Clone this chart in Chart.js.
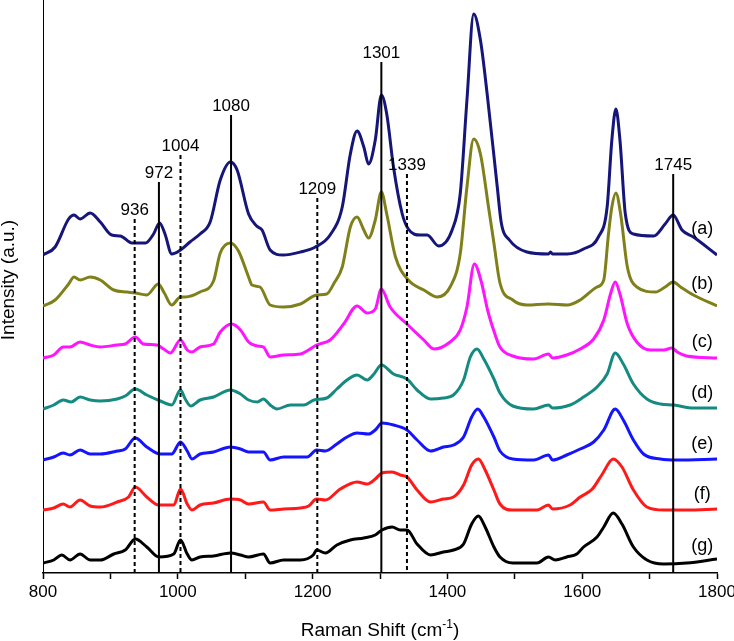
<!DOCTYPE html>
<html>
<head>
<meta charset="utf-8">
<script src="https://cdn.jsdelivr.net/npm/chart.js@4.4.1/dist/chart.umd.min.js"></script>
<style>
  html, body { margin: 0; padding: 0; background: #fff; }
  #wrap { width: 734px; height: 641px; position: relative; }
</style>
</head>
<body>
<div id="wrap"><canvas id="ramanChart" width="734" height="641"></canvas></div>
<script>
// spectra, Raman shift (cm-1) and intensity (a.u., already stacked)
const shiftA = [800, 818, 838, 846, 855, 870, 885, 902, 915, 932, 952, 964, 973, 981, 991, 1004, 1018, 1033, 1048, 1063, 1078, 1088, 1105, 1117, 1125, 1137, 1156, 1182, 1204, 1226, 1244, 1256, 1266, 1276, 1283, 1293, 1302, 1310, 1320, 1333, 1342, 1360, 1370, 1387, 1407, 1419, 1429, 1439, 1449, 1459, 1474, 1480, 1492, 1518, 1550, 1553, 1556, 1578, 1602, 1624, 1637, 1644, 1650, 1656, 1664, 1676, 1706, 1723, 1735, 1748, 1765, 1800];
const intA = [318, 326, 354, 358, 354, 360, 351, 338, 337, 330, 330, 339, 350, 339, 319, 323, 331, 339, 351, 393, 411, 403, 359, 347, 343, 323, 318, 321, 326, 338, 366, 419, 442, 426, 409, 433, 478, 459, 406, 359, 344, 338, 338, 327, 343, 379, 473, 559, 533, 479, 386, 350, 333, 321, 319, 321, 319, 319, 324, 336, 366, 433, 464, 433, 359, 339, 337, 349, 358, 343, 336, 318];

const shiftB = [800, 818, 838, 846, 855, 870, 885, 905, 925, 937, 954, 971, 980, 991, 1004, 1011, 1033, 1053, 1063, 1078, 1090, 1105, 1110, 1122, 1137, 1157, 1182, 1206, 1221, 1232, 1244, 1256, 1266, 1276, 1283, 1293, 1302, 1310, 1323, 1342, 1365, 1385, 1404, 1419, 1429, 1439, 1449, 1461, 1469, 1478, 1497, 1518, 1550, 1578, 1597, 1622, 1632, 1639, 1644, 1650, 1657, 1667, 1681, 1709, 1723, 1735, 1746, 1765, 1800];
const intB = [267, 273, 289, 296, 293, 296, 293, 283, 281, 280, 278, 289, 280, 268, 276, 276, 281, 292, 320, 330, 322, 296, 288, 286, 268, 266, 269, 278, 279, 290, 306, 346, 356, 343, 335, 353, 381, 359, 316, 293, 283, 276, 286, 319, 386, 434, 419, 366, 330, 290, 273, 268, 269, 268, 273, 286, 293, 339, 366, 380, 359, 306, 286, 281, 286, 291, 286, 278, 267];

const shiftC = [800, 816, 830, 840, 855, 870, 885, 910, 922, 937, 949, 969, 979, 989, 1004, 1014, 1021, 1033, 1053, 1063, 1080, 1093, 1105, 1118, 1127, 1137, 1157, 1182, 1194, 1206, 1226, 1246, 1266, 1281, 1293, 1302, 1315, 1340, 1365, 1380, 1404, 1419, 1429, 1440, 1450, 1460, 1470, 1478, 1497, 1528, 1550, 1556, 1577, 1597, 1617, 1632, 1642, 1649, 1656, 1667, 1681, 1701, 1721, 1733, 1741, 1755, 1800];
const intC = [215, 218, 226, 226, 231, 228, 226, 228, 229, 236, 229, 228, 224, 220, 233, 223, 221, 226, 229, 241, 249, 243, 231, 227, 226, 216, 218, 219, 223, 228, 233, 249, 267, 260, 264, 284, 266, 249, 233, 224, 231, 243, 266, 309, 292, 262, 240, 226, 217, 214, 219, 215, 218, 224, 234, 253, 279, 291, 279, 249, 231, 223, 223, 225, 221, 217, 215];

const shiftD = [800, 816, 830, 842, 855, 870, 885, 910, 922, 937, 954, 974, 991, 1004, 1011, 1019, 1033, 1053, 1078, 1093, 1105, 1118, 1127, 1137, 1147, 1167, 1187, 1202, 1221, 1236, 1251, 1266, 1281, 1291, 1302, 1320, 1340, 1355, 1375, 1394, 1409, 1424, 1434, 1444, 1454, 1469, 1478, 1497, 1528, 1550, 1556, 1582, 1602, 1622, 1637, 1649, 1661, 1676, 1696, 1716, 1736, 1765, 1800];
const intD = [164, 168, 173, 171, 176, 173, 172, 174, 177, 184, 178, 172, 168, 183, 174, 167, 173, 176, 183, 179, 173, 171, 174, 168, 164, 168, 168, 173, 175, 184, 193, 198, 193, 199, 208, 199, 194, 183, 174, 175, 178, 193, 216, 224, 214, 194, 180, 167, 164, 168, 165, 168, 176, 186, 199, 220, 209, 189, 174, 169, 168, 165, 165];

const shiftE = [800, 816, 830, 840, 855, 870, 885, 910, 922, 937, 954, 974, 991, 1004, 1014, 1021, 1033, 1053, 1078, 1093, 1105, 1127, 1137, 1157, 1177, 1192, 1206, 1219, 1236, 1251, 1266, 1283, 1293, 1303, 1320, 1340, 1355, 1375, 1394, 1409, 1424, 1436, 1445, 1454, 1469, 1478, 1497, 1528, 1550, 1556, 1577, 1597, 1617, 1632, 1649, 1661, 1676, 1691, 1716, 1741, 1800];
const intE = [113, 116, 120, 118, 123, 119, 119, 122, 124, 135, 126, 119, 119, 131, 122, 114, 119, 121, 126, 124, 121, 121, 113, 116, 116, 116, 123, 122, 129, 136, 140, 139, 143, 150, 148, 143, 133, 122, 126, 128, 136, 156, 164, 156, 136, 122, 114, 113, 118, 113, 118, 124, 131, 143, 164, 153, 133, 119, 114, 113, 114];

const shiftF = [800, 816, 830, 840, 855, 870, 885, 910, 927, 937, 954, 972, 994, 1004, 1014, 1021, 1033, 1053, 1078, 1093, 1105, 1127, 1137, 1157, 1182, 1194, 1206, 1219, 1241, 1266, 1281, 1293, 1303, 1318, 1330, 1340, 1355, 1375, 1394, 1409, 1424, 1436, 1446, 1456, 1469, 1478, 1497, 1533, 1550, 1556, 1582, 1597, 1615, 1629, 1646, 1659, 1676, 1696, 1721, 1755, 1800];
const intF = [63, 65, 69, 66, 73, 67, 66, 71, 76, 86, 76, 68, 68, 84, 69, 63, 68, 70, 74, 73, 69, 71, 63, 64, 65, 67, 74, 73, 84, 91, 89, 94, 100, 101, 98, 96, 83, 71, 74, 76, 88, 108, 114, 103, 83, 69, 63, 63, 68, 64, 68, 76, 84, 98, 114, 106, 83, 66, 63, 63, 64];

const shiftG = [800, 816, 828, 840, 855, 870, 885, 905, 922, 937, 954, 972, 994, 1004, 1014, 1021, 1033, 1053, 1078, 1093, 1105, 1127, 1137, 1157, 1182, 1201, 1206, 1219, 1236, 1256, 1276, 1293, 1303, 1318, 1330, 1340, 1355, 1375, 1394, 1409, 1424, 1436, 1446, 1456, 1469, 1478, 1497, 1533, 1550, 1560, 1577, 1592, 1602, 1622, 1632, 1646, 1659, 1676, 1696, 1721, 1755, 1800];
const intG = [10, 13, 18, 13, 19, 13, 13, 19, 23, 34, 26, 16, 19, 33, 19, 13, 16, 17, 20, 18, 16, 19, 10, 13, 13, 18, 23, 20, 28, 33, 35, 38, 43, 46, 43, 43, 29, 18, 21, 23, 29, 49, 57, 46, 26, 16, 10, 10, 16, 13, 16, 19, 26, 36, 46, 60, 49, 26, 13, 9, 10, 14];

const seriesNames = ['(a)', '(b)', '(c)', '(d)', '(e)', '(f)', '(g)'];
const seriesShift = [shiftA, shiftB, shiftC, shiftD, shiftE, shiftF, shiftG];
const seriesInt = [intA, intB, intC, intD, intE, intF, intG];
const seriesColors = ['#15157a', '#80801a', '#ff14ff', '#158a80', '#1414ff', '#ff1a1a', '#000000'];

// band markers
const markerShift = [936, 972, 1004, 1079, 1207, 1302, 1340, 1735];
const markerText = ['936', '972', '1004', '1080', '1209', '1301', '1339', '1745'];
const markerDashed = [true, false, true, false, true, false, true, false];
const markerTop = [354, 391, 418, 458, 375, 511, 399, 399];

const xTicks = [800, 1000, 1200, 1400, 1600, 1800];

const FONT = '"Liberation Sans", Arial, Helvetica, sans-serif';

const datasets = seriesNames.map((name, i) => ({
    label: name,
    data: seriesShift[i].map((x, k) => ({ x: x, y: seriesInt[i][k] })),
    borderColor: seriesColors[i],
    borderWidth: 3,
    pointRadius: 0,
    fill: false,
    cubicInterpolationMode: 'monotone',
}));

function valueAt(xs, ys, x) {
    for (let k = 1; k < xs.length; k++) {
        if (xs[k] >= x) {
            const t = (x - xs[k - 1]) / (xs[k] - xs[k - 1]);
            return ys[k - 1] + t * (ys[k] - ys[k - 1]);
        }
    }
    return ys[ys.length - 1];
}

const annotations = {
    id: 'annotations',
    afterDatasetsDraw(chart) {
        const ctx = chart.ctx;
        const xs = chart.scales.x;
        const ys = chart.scales.y;
        const area = chart.chartArea;
        ctx.save();

        // vertical band lines
        markerShift.forEach((m, i) => {
            const px = xs.getPixelForValue(m);
            const top = ys.getPixelForValue(markerTop[i]);
            ctx.beginPath();
            ctx.strokeStyle = '#000';
            ctx.lineWidth = 2;
            ctx.setLineDash(markerDashed[i] ? [4, 3] : []);
            ctx.moveTo(px, top);
            ctx.lineTo(px, area.bottom);
            ctx.stroke();
            ctx.setLineDash([]);
            ctx.fillStyle = '#000';
            ctx.font = '17px ' + FONT;
            ctx.textAlign = 'center';
            ctx.textBaseline = 'alphabetic';
            ctx.fillText(markerText[i], px, top - 4);
        });

        // series labels
        ctx.font = '18px ' + FONT;
        ctx.textAlign = 'center';
        ctx.textBaseline = 'middle';
        seriesNames.forEach((name, i) => {
            const v = valueAt(seriesShift[i], seriesInt[i], 1778);
            ctx.fillText(name, xs.getPixelForValue(1778), ys.getPixelForValue(v) - 15);
        });

        // axis titles
        ctx.font = '19px ' + FONT;
        const main = 'Raman Shift (cm';
        const sup = '-1';
        const close = ')';
        const w1 = ctx.measureText(main).width;
        const w3 = ctx.measureText(close).width;
        ctx.font = '12px ' + FONT;
        const w2 = ctx.measureText(sup).width;
        const cx = (area.left + area.right) / 2;
        let startX = cx - (w1 + w2 + w3) / 2;
        const baseY = 636;
        ctx.textAlign = 'left';
        ctx.textBaseline = 'alphabetic';
        ctx.font = '19px ' + FONT;
        ctx.fillText(main, startX, baseY);
        ctx.font = '12px ' + FONT;
        ctx.fillText(sup, startX + w1, baseY - 8);
        ctx.font = '19px ' + FONT;
        ctx.fillText(close, startX + w1 + w2, baseY);

        ctx.translate(9, 280);
        ctx.rotate(-Math.PI / 2);
        ctx.textAlign = 'center';
        ctx.textBaseline = 'middle';
        ctx.fillText('Intensity (a.u.)', 0, 0);
        ctx.restore();
    }
};

new Chart(document.getElementById('ramanChart'), {
    type: 'line',
    data: { datasets: datasets },
    options: {
        responsive: false,
        animation: false,
        events: [],
        layout: { padding: { top: 0, right: 17, left: 0, bottom: 0 } },
        plugins: {
            legend: { display: false },
            tooltip: { enabled: false },
        },
        scales: {
            x: {
                type: 'linear',
                min: 800,
                max: 1800,
                afterBuildTicks: (scale) => {
                    const t = [];
                    for (let v = 800; v <= 1800; v += 100) t.push({ value: v });
                    scale.ticks = t;
                },
                afterFit: (scale) => {
                    scale.height = 68;
                    scale.paddingLeft = 0;
                    scale.paddingRight = 0;
                },
                ticks: {
                    autoSkip: false,
                    maxRotation: 0,
                    padding: 3,
                    color: '#000',
                    font: { family: FONT, size: 17 },
                    callback: (v) => (xTicks.includes(v) ? String(v) : ''),
                },
                grid: {
                    display: true,
                    drawOnChartArea: false,
                    drawTicks: true,
                    tickLength: 6,
                    tickWidth: 1.5,
                    tickColor: '#000',
                },
                border: { display: true, color: '#000', width: 1.5 },
            },
            y: {
                min: 0,
                max: 573,
                afterFit: (scale) => { scale.width = 43; },
                ticks: { display: false },
                grid: { display: false },
                border: { display: true, color: '#000', width: 1 },
            },
        },
    },
    plugins: [annotations],
});
</script>
</body>
</html>
